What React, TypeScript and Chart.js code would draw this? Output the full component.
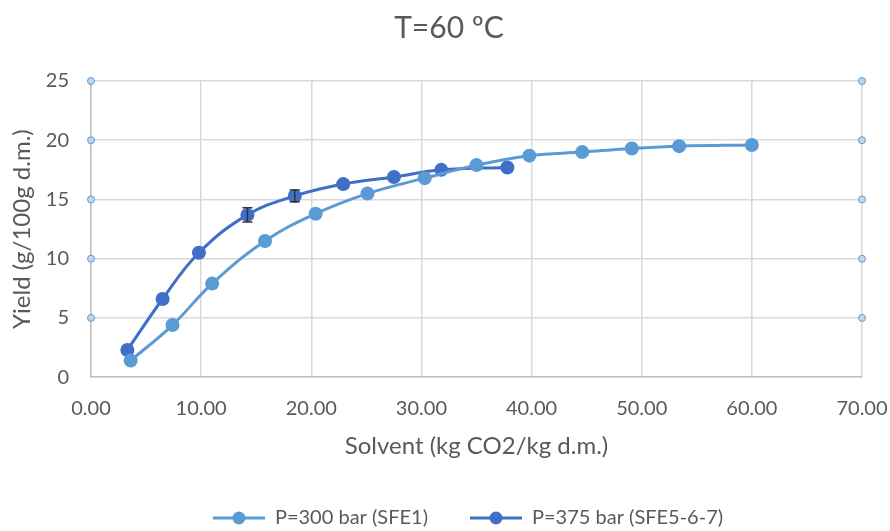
import React, { useEffect, useRef } from "react";
import { Chart, registerables } from "chart.js";

Chart.register(...registerables);

const titleText = "T=60 ºC";
const xTitle = "Solvent (kg CO2/kg d.m.)";
const yTitle = "Yield (g/100g d.m.)";

const s1Label = "P=300 bar (SFE1)";
const s1X = [3.6, 7.4, 11.0, 15.8, 20.4, 25.1, 30.3, 35.0, 39.8, 44.6, 49.1, 53.4, 60.0];
const s1Y = [1.4, 4.4, 7.9, 11.5, 13.8, 15.5, 16.8, 17.9, 18.7, 19.0, 19.3, 19.5, 19.6];

const s2Label = "P=375 bar (SFE5-6-7)";
const s2X = [3.3, 6.5, 9.8, 14.2, 18.5, 22.9, 27.5, 31.8, 37.8];
const s2Y = [2.3, 6.6, 10.5, 13.7, 15.3, 16.3, 16.9, 17.5, 17.7];
const s2Err = [0, 0, 0, 0.6, 0.5, 0, 0, 0, 0];

const edgeX = [0, 70];
const edgeY = [5, 10, 15, 20, 25];

const FONT = "Lato, 'Open Sans', sans-serif";
const TEXT = "#595959";
const LIGHT = "#5B9BD5";
const DARK = "#3F6FC6";

const ICON_GAP = 38;
const ICON_LINE = 52;

function legendIcon(color: string) {
  const c = document.createElement("canvas");
  c.width = ICON_GAP + ICON_LINE;
  c.height = 16;
  const ctx = c.getContext("2d")!;
  ctx.strokeStyle = color;
  ctx.lineWidth = 3;
  ctx.beginPath();
  ctx.moveTo(ICON_GAP, 8);
  ctx.lineTo(ICON_GAP + ICON_LINE, 8);
  ctx.stroke();
  ctx.fillStyle = color;
  ctx.beginPath();
  ctx.arc(ICON_GAP + ICON_LINE / 2, 8, 6.5, 0, Math.PI * 2);
  ctx.fill();
  return c;
}

const errorBarPlugin = {
  id: "errorBars",
  afterDatasetsDraw(chart: any) {
    const ctx = chart.ctx;
    const xs = chart.scales.x;
    const ys = chart.scales.y;
    ctx.save();
    ctx.strokeStyle = "#333333";
    ctx.lineWidth = 1.5;
    s2X.forEach((xv, i) => {
      if (!s2Err[i]) return;
      const px = xs.getPixelForValue(xv);
      const top = ys.getPixelForValue(s2Y[i] + s2Err[i]);
      const bot = ys.getPixelForValue(s2Y[i] - s2Err[i]);
      ctx.beginPath();
      ctx.moveTo(px, top);
      ctx.lineTo(px, bot);
      ctx.moveTo(px - 5, top);
      ctx.lineTo(px + 5, top);
      ctx.moveTo(px - 5, bot);
      ctx.lineTo(px + 5, bot);
      ctx.stroke();
    });
    ctx.restore();
  },
};

export default function App() {
  const ref = useRef<HTMLCanvasElement>(null);
  useEffect(() => {
    document.body.style.margin = "0";
    const edgePts: { x: number; y: number }[] = [];
    edgeX.forEach((x) => edgeY.forEach((y) => edgePts.push({ x, y })));
    const chart = new Chart(ref.current!, {
      type: "scatter",
      data: {
        datasets: [
          {
            label: s1Label,
            data: s1X.map((x, i) => ({ x, y: s1Y[i] })),
            showLine: true,
            tension: 0.4,
            borderColor: LIGHT,
            backgroundColor: LIGHT,
            borderWidth: 3,
            pointRadius: 7,
            pointBorderWidth: 0,
            pointStyle: "circle",
          },
          {
            label: s2Label,
            data: s2X.map((x, i) => ({ x, y: s2Y[i] })),
            showLine: true,
            tension: 0.4,
            borderColor: DARK,
            backgroundColor: DARK,
            borderWidth: 3,
            pointRadius: 7,
            pointBorderWidth: 0,
            pointStyle: "circle",
          },
          {
            label: "edge",
            data: edgePts,
            showLine: false,
            pointRadius: 3.5,
            pointBorderWidth: 1,
            borderColor: "#5B9BD5",
            backgroundColor: "#BDD7EE",
            clip: false as any,
          },
        ],
      },
      options: {
        animation: false,
        responsive: false,
        maintainAspectRatio: false,
        layout: { padding: { left: 8, right: 0, top: 0, bottom: -7 } },
        plugins: {
          title: {
            display: true,
            text: titleText,
            color: TEXT,
            font: { family: FONT, size: 30, weight: "normal" },
            padding: { top: 10, bottom: 35 },
          },
          legend: {
            position: "bottom",
            labels: {
              color: TEXT,
              font: { family: FONT, size: 20 },
              usePointStyle: true,
              pointStyleWidth: ICON_GAP + ICON_LINE,
              boxHeight: 16,
              padding: 4,
              generateLabels: (chart: any) =>
                chart.data.datasets.slice(0, 2).map((d: any, i: number) => ({
                  text: d.label,
                  fontColor: TEXT,
                  pointStyle: legendIcon(i === 0 ? LIGHT : DARK),
                  datasetIndex: i,
                  lineWidth: 0,
                  strokeStyle: "transparent",
                  fillStyle: "transparent",
                })),
            },
          },
          tooltip: { enabled: false },
        },
        scales: {
          x: {
            type: "linear",
            min: 0,
            max: 70,
            afterFit: (scale: any) => {
              scale.paddingLeft = 0;
              scale.paddingRight = 28;
            },
            ticks: {
              stepSize: 10,
              color: TEXT,
              font: { family: FONT, size: 20 },
              callback: (v: any) => Number(v).toFixed(2),
              padding: 19,
              maxRotation: 0,
            },
            grid: { color: "#D9D9D9", lineWidth: 1.5, drawTicks: false },
            border: { color: "#BFBFBF", width: 1.5 },
            title: {
              display: true,
              text: xTitle,
              color: TEXT,
              font: { family: FONT, size: 24 },
              padding: { top: -7, bottom: 43 },
            },
          },
          y: {
            min: 0,
            max: 25,
            afterFit: (scale: any) => {
              scale.width = 83;
            },
            ticks: {
              stepSize: 5,
              color: TEXT,
              font: { family: FONT, size: 20 },
              padding: 22,
            },
            grid: { color: "#D9D9D9", lineWidth: 1.5, drawTicks: false },
            border: { color: "#BFBFBF", width: 1.5 },
            title: {
              display: true,
              text: yTitle,
              color: TEXT,
              font: { family: FONT, size: 24 },
              padding: { top: 0, bottom: 8 },
            },
          },
        },
      },
      plugins: [errorBarPlugin],
    });
    return () => chart.destroy();
  }, []);
  return <canvas ref={ref} width={890} height={531} style={{ display: "block" }} />;
}
